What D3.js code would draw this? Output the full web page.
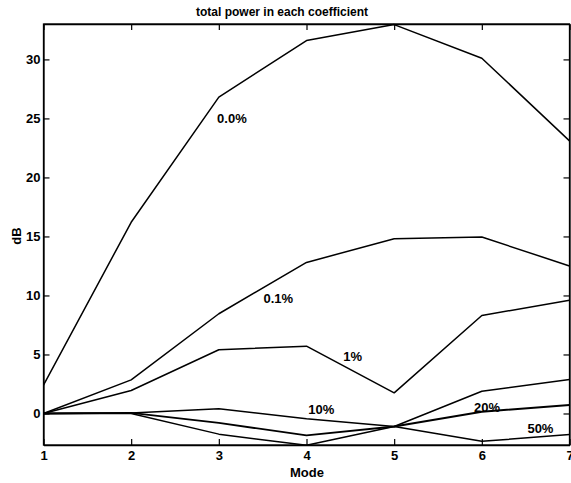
<!DOCTYPE html>
<html>
<head>
<meta charset="utf-8">
<script src="https://cdn.jsdelivr.net/npm/d3@7"></script>
<style>
  html, body { margin: 0; padding: 0; background: #fff; }
  svg { display: block; }
  text { font-family: "Liberation Sans", Arial, Helvetica, sans-serif; fill: #000; }
</style>
</head>
<body>
<svg id="chart" width="571" height="483"></svg>
<script>
// Mode numbers on the x axis
const modes = [1, 2, 3, 4, 5, 6, 7];

// Total power per coefficient (dB) for each noise level
const noise00  = [2.4, 16.2, 26.8, 31.6, 32.95, 30.1, 23.1];
const noise01  = [0, 2.85, 8.45, 12.8, 14.8, 14.95, 12.5];
const noise1   = [0, 1.95, 5.4, 5.7, 1.75, 8.3, 9.6];
const noise10  = [0, 0.05, 0.4, -0.45, -1.1, 1.88, 2.87];
const noise20  = [0, 0.05, -0.8, -1.85, -1.1, 0.15, 0.72];
const noise50  = [0, 0.0, -1.75, -2.7, -1.1, -2.36, -1.79];

const seriesNames = ["0.0%", "0.1%", "1%", "10%", "20%", "50%"];
const seriesValues = [noise00, noise01, noise1, noise10, noise20, noise50];

// Where each curve's label sits, in (mode, dB)
const labelMode = [2.98, 3.51, 4.42, 4.02, 5.91, 6.52];
const labelDb   = [25.0, 9.76, 4.8, 0.3, 0.47, -1.25];

const yTicks = [0, 5, 10, 15, 20, 25, 30];
const titleText = "total power in each coefficient";
const xLabel = "Mode";
const yLabel = "dB";

const svg = d3.select("#chart");
const plotLeft = 43.5, plotRight = 569.5, plotTop = 24, plotBottom = 445;

const x = d3.scaleLinear().domain([1, 7]).range([plotLeft, plotRight]);
const y = d3.scaleLinear().domain([-2.67, 33.0]).range([plotBottom, plotTop]);

const tickFont = "bold 13px 'Liberation Sans', Arial, sans-serif";

// Frame
svg.append("rect")
  .attr("x", plotLeft).attr("y", plotTop)
  .attr("width", plotRight - plotLeft).attr("height", plotBottom - plotTop)
  .attr("fill", "none").attr("stroke", "#000").attr("stroke-width", 1.3);

// Bottom axis with labels, ticks pointing inward
const gx = svg.append("g").attr("transform", `translate(0,${plotBottom})`)
  .call(d3.axisBottom(x).tickValues(modes).tickFormat(d3.format("d"))
    .tickSize(-6).tickSizeOuter(0).tickPadding(6));
// Left axis
const gy = svg.append("g").attr("transform", `translate(${plotLeft},0)`)
  .call(d3.axisLeft(y).tickValues(yTicks).tickFormat(d3.format("d"))
    .tickSize(-6).tickSizeOuter(0).tickPadding(3));
// Top and right axes: ticks only
const gt = svg.append("g").attr("transform", `translate(0,${plotTop})`)
  .call(d3.axisTop(x).tickValues(modes).tickFormat("")
    .tickSize(-6).tickSizeOuter(0));
const gr = svg.append("g").attr("transform", `translate(${plotRight},0)`)
  .call(d3.axisRight(y).tickValues(yTicks).tickFormat("")
    .tickSize(-6).tickSizeOuter(0));

[gx, gy, gt, gr].forEach(g => {
  g.select(".domain").attr("stroke", "#000").attr("stroke-width", 1.3);
  g.selectAll(".tick line").attr("stroke", "#000").attr("stroke-width", 1.2);
  g.selectAll("text").style("font", tickFont).attr("fill", "#000");
});

// Curves
const line = d3.line()
  .x((d, i) => x(modes[i]))
  .y(d => y(d));

svg.append("g")
  .selectAll("path")
  .data(seriesValues)
  .join("path")
  .attr("d", line)
  .attr("fill", "none")
  .attr("stroke", "#000")
  .attr("stroke-linejoin", "round")
  .attr("stroke-width", (d, i) => seriesNames[i] === "20%" ? 1.9 : 1.5);

// Curve labels
svg.append("g")
  .selectAll("text")
  .data(seriesNames)
  .join("text")
  .attr("x", (d, i) => x(labelMode[i]))
  .attr("y", (d, i) => y(labelDb[i]))
  .attr("dy", "0.35em")
  .style("font", "bold 13px 'Liberation Sans', Arial, sans-serif")
  .text(d => d);

// Title and axis labels
svg.append("text")
  .attr("x", 282).attr("y", 15.5)
  .attr("text-anchor", "middle")
  .style("font", "bold 12px 'Liberation Sans', Arial, sans-serif")
  .text(titleText);

svg.append("text")
  .attr("x", 307).attr("y", 477)
  .attr("text-anchor", "middle")
  .style("font", tickFont)
  .text(xLabel);

svg.append("text")
  .attr("transform", "translate(21,236) rotate(-90)")
  .attr("text-anchor", "middle")
  .style("font", tickFont)
  .text(yLabel);
</script>
</body>
</html>
